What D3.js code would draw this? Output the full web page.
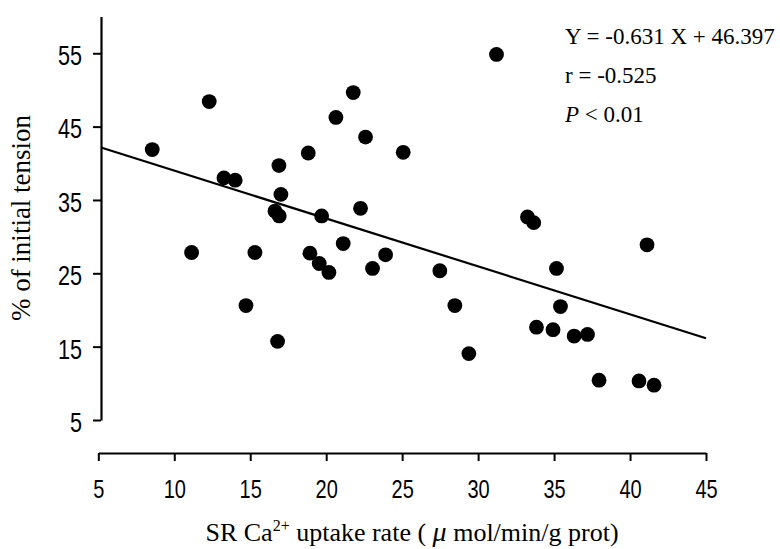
<!DOCTYPE html>
<html>
<head>
<meta charset="utf-8">
<script src="https://cdn.jsdelivr.net/npm/d3@7"></script>
<style>
  html, body { margin: 0; padding: 0; background: #fff; }
  svg { display: block; }
  .tick-lbl { font-family: "Liberation Sans", Arial, sans-serif; fill: #000; }
  .serif { font-family: "Liberation Serif", "Times New Roman", serif; fill: #000; }
</style>
</head>
<body>
<div id="chart"></div>
<script>
// SR Ca uptake rate vs % of initial tension
const uptake = [8.55, 12.30, 13.27, 14.01, 16.89, 17.02, 16.63, 16.91, 19.70, 18.82,
  20.64, 21.78, 22.59, 22.26, 11.14, 15.31, 18.93, 19.54, 20.18, 21.12,
  23.05, 23.91, 25.07, 14.72, 16.80, 31.21, 33.25, 33.66, 41.12, 27.48,
  35.16, 28.47, 29.39, 33.84, 34.93, 35.42, 36.32, 37.20, 37.96, 40.59, 41.58];
const tension = [41.87, 48.42, 38.01, 37.70, 39.69, 35.76, 33.49, 32.82, 32.82, 41.40,
  46.25, 49.64, 43.58, 33.86, 27.84, 27.84, 27.75, 26.34, 25.12, 29.06,
  25.67, 27.52, 41.50, 20.60, 15.72, 54.84, 32.68, 31.91, 28.88, 25.35,
  25.67, 20.60, 14.05, 17.66, 17.31, 20.47, 16.44, 16.67, 10.43, 10.33, 9.75];

const xTicks = [5, 10, 15, 20, 25, 30, 35, 40, 45];
const yTicks = [5, 15, 25, 35, 45, 55];

// regression line as drawn (end points)
const fitX = [5.18, 45];
const fitY = [42.15, 16.15];

const statLines = ["Y = -0.631 X + 46.397", "r = -0.525", "< 0.01"];

const W = 780, H = 549;
const NARROW = 0.8; // tick font in the scan is a condensed sans

const svg = d3.select("#chart").append("svg").attr("width", W).attr("height", H);
svg.append("rect").attr("width", W).attr("height", H).attr("fill", "#fff");

const x = d3.scaleLinear().domain([5, 45]).range([98.3, 706]);
const y = d3.scaleLinear().domain([5, 60]).range([420, 16.6]);

// y axis (offset from x axis, ends at 5)
const yAxisX = 101;
const gy = svg.append("g").attr("transform", `translate(${yAxisX},0)`);
gy.call(d3.axisLeft(y).tickValues(yTicks).tickSize(8).tickSizeOuter(0).tickFormat(d3.format("d")));
gy.select(".domain").attr("stroke-width", 2.2);
gy.selectAll(".tick line").attr("stroke-width", 2);
gy.selectAll(".tick text").attr("class", "tick-lbl").attr("font-size", 27)
  .attr("x", 0).attr("dy", "0.42em")
  .attr("transform", `translate(-19,0) scale(${NARROW},1)`);

// x axis
const xAxisY = 453;
const gx = svg.append("g").attr("transform", `translate(0,${xAxisY})`);
gx.call(d3.axisBottom(x).tickValues(xTicks).tickSize(8).tickSizeOuter(0).tickFormat(d3.format("d")));
gx.select(".domain").attr("stroke-width", 2.2);
gx.selectAll(".tick line").attr("stroke-width", 2);
gx.selectAll(".tick text").attr("class", "tick-lbl").attr("font-size", 25)
  .attr("y", 27).attr("dy", "0.71em")
  .attr("transform", `scale(${NARROW},1)`);
svg.selectAll("g").attr("font-family", null);

// regression line
const line = d3.line().x(d => x(d[0])).y(d => y(d[1]));
svg.append("path")
  .datum(d3.zip(fitX, fitY))
  .attr("d", line)
  .attr("fill", "none")
  .attr("stroke", "#000")
  .attr("stroke-width", 2.2);

// points
svg.append("g").selectAll("circle")
  .data(d3.zip(uptake, tension))
  .join("circle")
  .attr("cx", d => x(d[0]))
  .attr("cy", d => y(d[1]))
  .attr("r", 7.4)
  .attr("fill", "#000");

// stats
const st = svg.append("g").attr("class", "serif").attr("font-size", 23);
st.append("text").attr("x", 565).attr("y", 44).text(statLines[0]);
st.append("text").attr("x", 565).attr("y", 83).text(statLines[1]);
const p = st.append("text").attr("x", 565).attr("y", 122);
p.append("tspan").attr("font-style", "italic").text("P");
p.append("tspan").text(" " + statLines[2]);

// axis titles
svg.append("text").attr("class", "serif").attr("font-size", 27)
  .attr("text-anchor", "middle")
  .attr("transform", "translate(30,218) rotate(-90)")
  .text("% of initial tension");

const xt = svg.append("text").attr("class", "serif").attr("font-size", 26)
  .attr("text-anchor", "middle").attr("x", 412).attr("y", 541);
xt.append("tspan").text("SR Ca");
xt.append("tspan").attr("font-size", 16).attr("dy", -10).text("2+");
xt.append("tspan").attr("dy", 10).text(" uptake rate ( ");
xt.append("tspan").attr("font-style", "italic").attr("font-size", 28).text("μ");
xt.append("tspan").text(" mol/min/g prot)");
</script>
</body>
</html>
